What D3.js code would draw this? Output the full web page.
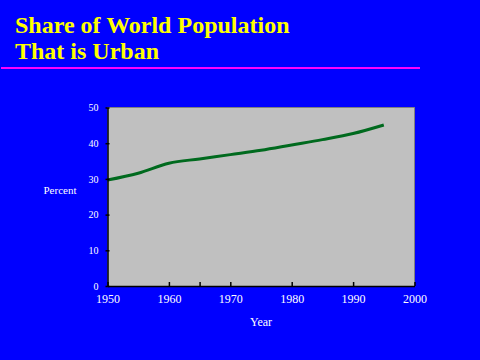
<!DOCTYPE html>
<html><head><meta charset="utf-8">
<script src="https://cdn.jsdelivr.net/npm/d3@7"></script>
<style>html,body{margin:0;padding:0;background:#0000FF;overflow:hidden}</style>
</head><body>
<script>
const titleLines = ["Share of World Population", "That is Urban"];
const years = [1950,1955,1960,1965,1970,1975,1980,1985,1990,1995];
const urbanShare = [29.7,31.6,34.4,35.6,36.8,38.0,39.5,41.0,42.7,45.1];
const xTicks = [1950,1960,1965,1970,1980,1990,2000];
const xTickLabels = [1950,1960,1970,1980,1990,2000];
const yTicks = [0,10,20,30,40,50];
const xLabel = "Year", yLabel = "Percent";

const W=480,H=360;
const svg=d3.select("body").append("svg").attr("width",W).attr("height",H);
svg.append("rect").attr("width",W).attr("height",H).attr("fill","#0000FF");

const serif="'Liberation Serif','Times New Roman',serif";
svg.selectAll("text.title").data(titleLines).join("text")
  .attr("x",15).attr("y",(d,i)=>33+i*26)
  .attr("fill","#FFFF00").attr("font-family",serif).attr("font-weight","bold")
  .attr("font-size",24).text(d=>d);
svg.append("rect").attr("x",1).attr("y",67).attr("width",419).attr("height",2).attr("fill","#FF00FF");

const L=107.5,R=414.5,T=107.5,B=286;
const x=d3.scaleLinear().domain([1950,2000]).range([L,R]);
const y=d3.scaleLinear().domain([0,50]).range([B,T]);

svg.append("rect").attr("x",L).attr("y",T).attr("width",R-L).attr("height",B-T).attr("fill","#C0C0C0");
svg.append("path").attr("d",`M${L},${T}H${R}V${B}`).attr("fill","none").attr("stroke","#808080").attr("stroke-width",1);

const line=d3.line().x((d,i)=>x(years[i])).y(d=>y(d)).curve(d3.curveMonotoneX);
svg.append("path").datum(urbanShare).attr("d",line).attr("fill","none")
  .attr("stroke","#006A1E").attr("stroke-width",3);

const xAxis=svg.append("g").attr("transform",`translate(0,${B})`)
  .call(d3.axisBottom(x).tickValues(xTicks).tickSize(4).tickSizeOuter(0)
    .tickFormat(d=>xTickLabels.includes(d)?String(d):""));
xAxis.select(".domain").attr("stroke","#000").attr("stroke-width",1.5);
xAxis.selectAll(".tick line").attr("stroke","#000").attr("y1",-4).attr("y2",0).attr("stroke-width",1.5);
xAxis.selectAll(".tick text").attr("fill","#fff").attr("font-family",serif).attr("font-size",12).attr("dy","1.4em").attr("y",0);

const yAxis=svg.append("g").attr("transform",`translate(${L},0)`)
  .call(d3.axisLeft(y).tickValues(yTicks).tickSize(4).tickSizeOuter(0).tickPadding(5));
yAxis.select(".domain").attr("stroke","#000").attr("stroke-width",1.5);
yAxis.selectAll(".tick line").attr("stroke","#000").attr("stroke-width",1.5).attr("x1",-2).attr("x2",2);
yAxis.selectAll(".tick text").attr("fill","#fff").attr("font-family",serif).attr("font-size",10);

svg.append("text").attr("x",(L+R)/2).attr("y",326).attr("text-anchor","middle")
  .attr("fill","#fff").attr("font-family",serif).attr("font-size",12).text(xLabel);
svg.append("text").attr("x",60).attr("y",194).attr("text-anchor","middle")
  .attr("fill","#fff").attr("font-family",serif).attr("font-size",11).text(yLabel);
</script>
</body></html>
